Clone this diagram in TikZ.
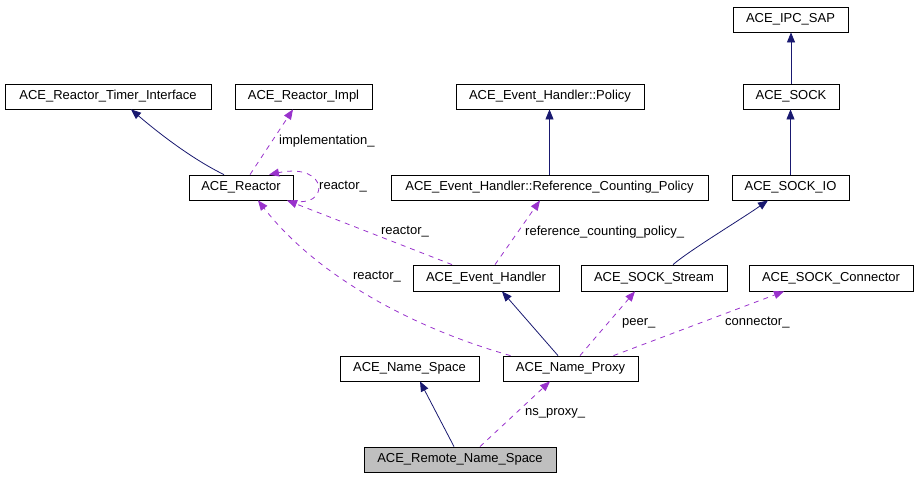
\documentclass[tikz,border=0pt]{standalone}
\usepackage{fontspec}
\setmainfont{Liberation Sans}
\usetikzlibrary{arrows.meta}
\definecolor{inhcol}{RGB}{25,25,112}
\definecolor{usecol}{RGB}{153,50,204}
\definecolor{boxgray}{RGB}{191,191,191}
\begin{document}
\begin{tikzpicture}[x=1pt,y=-1pt,
  font=\fontsize{13}{15}\selectfont,
  cls/.style={draw=black,line width=0.8pt,fill=white,inner sep=0pt,minimum height=25pt,anchor=center},
  inh/.style={draw=inhcol,line width=0.8pt,-{Triangle[length=10pt,width=8pt]},color=inhcol},
  use/.style={draw=usecol,line width=0.8pt,dash pattern=on 5pt off 5pt,-{Triangle[length=10pt,width=8pt]},color=usecol},
  lbl/.style={inner sep=0pt,anchor=center,text=black}]
\useasboundingbox (0,0) rectangle (917,477);
% nodes
\node[cls,minimum width=206pt] (RTI) at (108,96.5) {ACE\_Reactor\_Timer\_Interface};
\node[cls,minimum width=137pt] (RImpl) at (303.5,96.5) {ACE\_Reactor\_Impl};
\node[cls,minimum width=188pt] (Policy) at (550,96.5) {ACE\_Event\_Handler::Policy};
\node[cls,minimum width=115pt] (IPC) at (790.5,19.5) {ACE\_IPC\_SAP};
\node[cls,minimum width=96pt] (SOCK) at (791,96.5) {ACE\_SOCK};
\node[cls,minimum width=104pt] (Reactor) at (241,187.5) {ACE\_Reactor};
\node[cls,minimum width=317pt] (RCP) at (549.5,187.5) {ACE\_Event\_Handler::Reference\_Counting\_Policy};
\node[cls,minimum width=117pt] (SOCKIO) at (790.5,187.5) {ACE\_SOCK\_IO};
\node[cls,minimum width=146pt,minimum height=26pt] (EH) at (486,278) {ACE\_Event\_Handler};
\node[cls,minimum width=146pt,minimum height=26pt] (Stream) at (654,278) {ACE\_SOCK\_Stream};
\node[cls,minimum width=164pt,minimum height=26pt] (Conn) at (831,278) {ACE\_SOCK\_Connector};
\node[cls,minimum width=139pt] (NS) at (409.5,368.5) {ACE\_Name\_Space};
\node[cls,minimum width=135pt] (NP) at (570.5,368.5) {ACE\_Name\_Proxy};
\node[cls,minimum width=192pt,fill=boxgray] (RNS) at (460,459.5) {ACE\_Remote\_Name\_Space};
% inheritance edges
\draw[inh] ([xshift=-17pt]Reactor.north) .. controls (190,158) and (155,130) .. ([xshift=23pt]RTI.south);
\draw[inh] (RCP.north) -- (RCP.north |- Policy.south);
\draw[inh] (SOCKIO.north) -- (SOCKIO.north |- SOCK.south);
\draw[inh] (SOCK.north) -- (SOCK.north |- IPC.south);
\draw[inh] ([xshift=19pt]Stream.north) .. controls (690,250) and (740,220) .. ([xshift=-22.5pt]SOCKIO.south);
\draw[inh] ([xshift=-12.5pt]NP.north) -- ([xshift=16pt]EH.south);
\draw[inh] ([xshift=-6pt]RNS.north) -- ([xshift=10.5pt]NS.south);
% usage edges
\draw[use] ([xshift=9pt]Reactor.north) -- ([xshift=-10.5pt]RImpl.south);
\node[lbl,anchor=west] (Limpl) at (279,141) {implementation\_};
\draw[use] ([xshift=50pt]Reactor.south) .. controls (330,210) and (330,162) .. ([xshift=28pt]Reactor.north);
\node[lbl,anchor=west] (Lself) at (319,187) {reactor\_};
\draw[use] ([xshift=-34pt]EH.north) -- ([xshift=46pt]Reactor.south);
\node[lbl] (Leh) at (405,232) {reactor\_};
\draw[use] ([xshift=-60pt]NP.north) .. controls (420,330) and (320,280) .. ([xshift=17pt]Reactor.south);
\node[lbl] (Lnp) at (377,277) {reactor\_};
\draw[use] ([xshift=9pt]EH.north) -- ([xshift=-9.5pt]RCP.south);
\node[lbl,anchor=west] (Lrcp) at (525,232) {reference\_counting\_policy\_};
\draw[use] ([xshift=9.5pt]NP.north) -- ([xshift=-19pt]Stream.south);
\node[lbl,anchor=west] (Lpeer) at (622,323) {peer\_};
\draw[use] ([xshift=43pt]NP.north) -- ([xshift=-47pt]Conn.south);
\node[lbl,anchor=west] (Lconn) at (725,323) {connector\_};
\draw[use] ([xshift=20pt]RNS.north) -- ([xshift=-20.5pt]NP.south);
\node[lbl,anchor=west] (Lns) at (525,413) {ns\_proxy\_};
\end{tikzpicture}
\end{document}
